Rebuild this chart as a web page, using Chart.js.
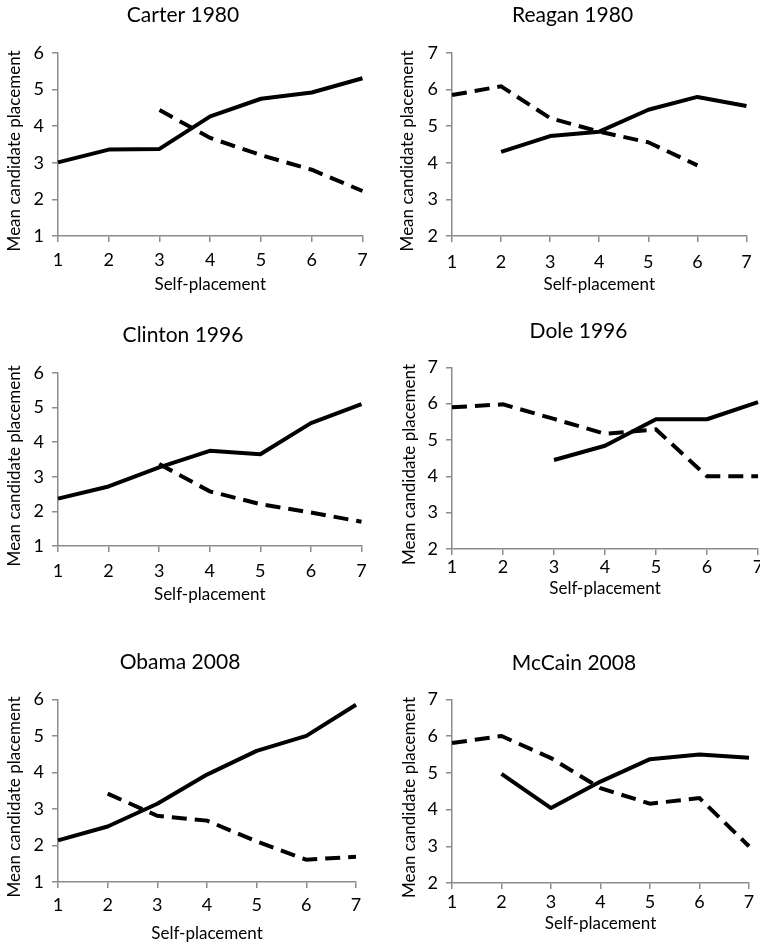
<!DOCTYPE html>
<html>
<head>
<meta charset="utf-8">
<script src="https://cdn.jsdelivr.net/npm/chart.js@4.4.1/dist/chart.umd.min.js"></script>
<style>
    html, body { margin: 0; padding: 0; background: #fff; overflow: hidden; width: 760px; height: 946px; }
    .panel { position: absolute; }
</style>
</head>
<body>
<div class="panel" id="carter"><canvas></canvas></div>
<div class="panel" id="reagan"><canvas></canvas></div>
<div class="panel" id="clinton"><canvas></canvas></div>
<div class="panel" id="dole"><canvas></canvas></div>
<div class="panel" id="obama"><canvas></canvas></div>
<div class="panel" id="mccain"><canvas></canvas></div>
<script>
// self-placement scale shared by every panel
const selfPlacement = ['1', '2', '3', '4', '5', '6', '7'];

const carterSolid  = [3.01, 3.36, 3.38, 4.27, 4.75, 4.92, 5.31];
const carterDashed = [null, null, 4.44, 3.68, 3.21, 2.81, 2.23];

const reaganSolid  = [null, 4.30, 4.73, 4.85, 5.45, 5.80, 5.55];
const reaganDashed = [5.85, 6.09, 5.22, 4.85, 4.56, 3.93, null];

const clintonSolid  = [2.37, 2.72, 3.27, 3.75, 3.65, 4.55, 5.10];
const clintonDashed = [null, null, 3.37, 2.58, 2.21, 1.97, 1.70];

const doleSolid  = [null, null, 4.45, 4.84, 5.57, 5.57, 6.04];
const doleDashed = [5.90, 5.98, 5.58, 5.17, 5.29, 4.00, 4.00];

const obamaSolid  = [2.14, 2.52, 3.14, 3.94, 4.59, 5.00, 5.85];
const obamaDashed = [null, 3.42, 2.81, 2.68, 2.11, 1.61, 1.69];

const mccainSolid  = [null, 4.97, 4.04, 4.76, 5.37, 5.50, 5.41];
const mccainDashed = [5.81, 6.00, 5.40, 4.58, 4.16, 4.31, 3.00];

// y axis ranges (min, max)
const democratRange   = [1, 6];
const republicanRange = [2, 7];

const FONT = 'Lato';
const GREY = '#8c8c8c';
// Excel centres the y title a little below the plot middle; a trailing em space does the same
const Y_TITLE = 'Mean candidate placement\u2003';

// box = canvas placement on the page, the rest tunes the plot area inside it
const panels = [
    { id: 'carter',  title: 'Carter 1980',  solid: carterSolid,  dashed: carterDashed,  range: democratRange,
      left: 0,   top: 0,   width: 375, height: 295, padLeft: 3, yW: 55, xH: 59, titleTop: 3,  titleBottom: 24.8, xPad: 7.3, yTitlePad: 1.8 },
    { id: 'reagan',  title: 'Reagan 1980',  solid: reaganSolid,  dashed: reaganDashed,  range: republicanRange,
      left: 390, top: 0,   width: 371, height: 295, padLeft: 6, yW: 56, xH: 59, titleTop: 3,  titleBottom: 24.8, xPad: 9.3, yTitlePad: 1.8 },
    { id: 'clinton', title: 'Clinton 1996', solid: clintonSolid, dashed: clintonDashed, range: democratRange,
      left: 0,   top: 300, width: 375, height: 305, padLeft: 3, yW: 55, xH: 59, titleTop: 22.9, titleBottom: 24.9, xPad: 8.3, yTitlePad: 1.8 },
    { id: 'dole',    title: 'Dole 1996',    solid: doleSolid,    dashed: doleDashed,    range: republicanRange,
      left: 390, top: 300, width: 380, height: 299, padLeft: 9, yW: 53, xH: 50, titleTop: 18.9, titleBottom: 23.2, xPad: 1, yTitlePad: 0 },
    { id: 'obama',   title: 'Obama 2008',   solid: obamaSolid,   dashed: obamaDashed,   range: democratRange,
      left: 0,   top: 610, width: 368, height: 334, padLeft: 4, yW: 54, xH: 62, titleTop: 39.9, titleBottom: 24.2, xPad: 6, yTitlePad: 0.8 },
    { id: 'mccain',  title: 'McCain 2008',  solid: mccainSolid,  dashed: mccainDashed,  range: republicanRange,
      left: 390, top: 610, width: 371, height: 324, padLeft: 9, yW: 53, xH: 51, titleTop: 40.9, titleBottom: 23.2, xPad: 2, yTitlePad: 0 }
];

function axisGrid() {
    return { drawOnChartArea: false, drawTicks: true, tickLength: 6, color: GREY, lineWidth: 1.5 };
}

function drawPanel(p) {
    const box = document.getElementById(p.id);
    box.style.left = p.left + 'px';
    box.style.top = p.top + 'px';
    const canvas = box.querySelector('canvas');
    canvas.width = p.width;
    canvas.height = p.height;

    new Chart(canvas, {
        type: 'line',
        data: {
            labels: selfPlacement,
            datasets: [
                { data: p.solid, borderColor: '#000', borderWidth: 4, pointRadius: 0, tension: 0, borderJoinStyle: 'round' },
                { data: p.dashed, borderColor: '#000', borderWidth: 4, pointRadius: 0, tension: 0, borderDash: [15, 8] }
            ]
        },
        options: {
            responsive: false,
            animation: false,
            devicePixelRatio: 1,
            layout: { padding: { left: p.padLeft, right: 12, top: 0, bottom: 0 } },
            plugins: {
                legend: { display: false },
                tooltip: { enabled: false },
                title: {
                    display: true,
                    text: p.title,
                    color: '#000',
                    font: { family: FONT, size: 21, weight: 'normal' },
                    padding: { top: p.titleTop, bottom: p.titleBottom }
                }
            },
            scales: {
                x: {
                    grid: axisGrid(),
                    border: { color: GREY, width: 1.5 },
                    ticks: { color: '#000', font: { family: FONT, size: 18 }, padding: p.xPad, maxRotation: 0, autoSkip: false },
                    title: { display: true, text: 'Self-placement', color: '#000', font: { family: FONT, size: 17 }, padding: { top: 0, bottom: 0 } },
                    afterFit: s => { s.height = p.xH; }
                },
                y: {
                    min: p.range[0],
                    max: p.range[1],
                    grid: axisGrid(),
                    border: { color: GREY, width: 1.5 },
                    ticks: { stepSize: 1, color: '#000', font: { family: FONT, size: 18 }, padding: 8 },
                    title: { display: true, text: Y_TITLE, color: '#000', font: { family: FONT, size: 17 }, padding: { top: p.yTitlePad, bottom: 0 } },
                    afterFit: s => { s.width = p.yW; }
                }
            }
        }
    });
}

panels.forEach(drawPanel);
</script>
</body>
</html>
